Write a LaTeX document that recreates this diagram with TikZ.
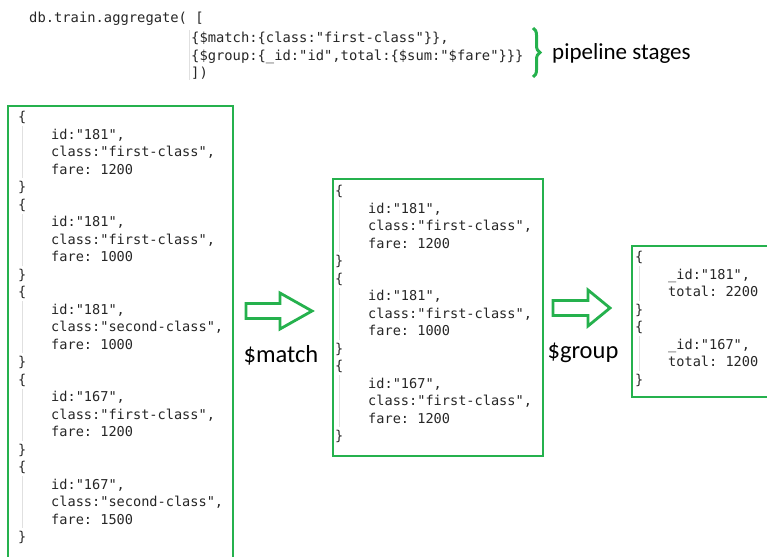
\documentclass[tikz,border=0pt]{standalone}
\usepackage{fontspec}
\setmainfont{Carlito}
\setmonofont{DejaVu Sans Mono}
\usetikzlibrary{decorations.pathreplacing}

\definecolor{stagegreen}{RGB}{37,177,77}
\definecolor{codegray}{RGB}{38,38,38}
\newcommand{\ind}{\hspace*{33pt}}

\tikzset{
  code/.style={font=\ttfamily\fontsize{13.6}{17.5}\selectfont, text=codegray,
    align=left, inner sep=0pt, anchor=north west},
  stagebox/.style={draw=stagegreen, line width=1.8pt, inner sep=0pt, anchor=north west},
  stagelabel/.style={font=\fontsize{24.5}{27}\selectfont, text=black, inner sep=0pt},
  guide/.style={black!12, line width=0.6pt},
  pics/stagearrow/.style args={#1/#2}{code={
    \draw[stagegreen, line width=2.8pt, line join=miter]
      (0,-7.5) -- (#1,-7.5) -- (#1,-18) -- (#2,0) -- (#1,18) -- (#1,7.5) -- (0,7.5) -- cycle;
  }}
}

\begin{document}
\begin{tikzpicture}[x=1pt, y=-1pt]
  \useasboundingbox (0,0) rectangle (767,556);
  \clip (0,0) rectangle (767,556);

  % the aggregate call
  \node[code, font=\ttfamily\fontsize{13.8}{17.5}\selectfont] (call) at (29,12) {db.train.aggregate( [};
  \node[code, font=\ttfamily\fontsize{13.8}{17.5}\selectfont] (stages) at (191,32)
    {\{\$match:\{class:"first-class"\}\},\\
     \{\$group:\{\_id:"id",total:\{\$sum:"\$fare"\}\}\}\\
     ])};
  \draw[guide] (189,30) -- (189,80);
  \coordinate (bracetop) at (533,28);
  \coordinate (bracebot) at (533,77);
  \draw[stagegreen, line width=3pt, decorate, decoration={brace, amplitude=7pt}]
    (bracetop) -- (bracebot);
  \node[stagelabel, font=\fontsize{23}{26}\selectfont, anchor=west] (stagename) at (552,53) {pipeline stages};

  % input documents
  \node[stagebox, minimum width=225pt, minimum height=480pt] (src) at (7,105) {};
  \node[code] (srctext) at (18,111)
    {\{\\
     \ind id:"181",\\
     \ind class:"first-class",\\
     \ind fare: 1200\\
     \}\\
     \{\\
     \ind id:"181",\\
     \ind class:"first-class",\\
     \ind fare: 1000\\
     \}\\
     \{\\
     \ind id:"181",\\
     \ind class:"second-class",\\
     \ind fare: 1000\\
     \}\\
     \{\\
     \ind id:"167",\\
     \ind class:"first-class",\\
     \ind fare: 1200\\
     \}\\
     \{\\
     \ind id:"167",\\
     \ind class:"second-class",\\
     \ind fare: 1500\\
     \}};
  \foreach \r in {0,...,4}
    \draw[guide] (22,{126+87.5*\r}) -- (22,{178+87.5*\r});

  % after $match
  \pic at (246,311) {stagearrow=34/66};
  \node[stagelabel] (matchname) at (281,355) {\$match};
  \node[stagebox, minimum width=210pt, minimum height=277pt] (matched) at (332,178) {};
  \node[code] (matchedtext) at (335,185)
    {\{\\
     \ind id:"181",\\
     \ind class:"first-class",\\
     \ind fare: 1200\\
     \}\\
     \{\\
     \ind id:"181",\\
     \ind class:"first-class",\\
     \ind fare: 1000\\
     \}\\
     \{\\
     \ind id:"167",\\
     \ind class:"first-class",\\
     \ind fare: 1200\\
     \}};
  \foreach \r in {0,1,2}
    \draw[guide] (339,{200+87.5*\r}) -- (339,{252+87.5*\r});

  % after $group
  \pic at (553,308) {stagearrow=35/57};
  \node[stagelabel] (groupname) at (583,353) {\$group};
  \node[stagebox, minimum width=200pt, minimum height=151pt] (grouped) at (631,245) {};
  \node[code] (groupedtext) at (635,251)
    {\{\\
     \ind \_id:"181",\\
     \ind total: 2200\\
     \}\\
     \{\\
     \ind \_id:"167",\\
     \ind total: 1200\\
     \}};
  \foreach \r in {0,1}
    \draw[guide] (639,{266+70*\r}) -- (639,{301+70*\r});
\end{tikzpicture}
\end{document}
